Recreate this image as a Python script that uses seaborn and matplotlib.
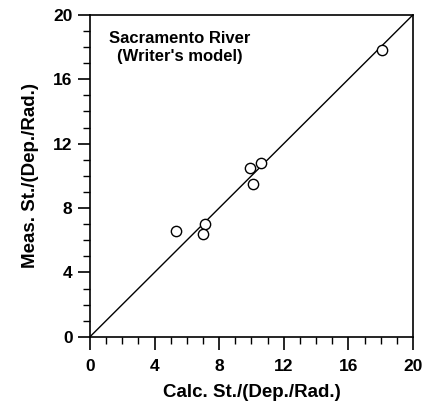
import numpy as np
import pandas as pd
import seaborn as sns
import matplotlib
matplotlib.use("Agg")
import matplotlib.pyplot as plt
from matplotlib.ticker import MultipleLocator

calc = [5.3, 7.1, 7.0, 9.9, 10.6, 10.1, 18.1]
meas = [6.6, 7.0, 6.4, 10.5, 10.8, 9.5, 17.8]
line_x = [0, 20]
line_y = [0, 20]

df = pd.DataFrame({"calc": calc, "meas": meas})

sns.set_style("ticks")
plt.rcParams['font.family'] = ['Liberation Sans', 'DejaVu Sans']
plt.rcParams['font.weight'] = 'bold'
plt.rcParams['text.color'] = 'black'
plt.rcParams['axes.labelcolor'] = 'black'

fig = plt.figure(figsize=(4.24, 4.01), dpi=100)
ax = fig.add_axes([0.212, 0.160, 0.762, 0.803])

sns.lineplot(x=line_x, y=line_y, ax=ax, color="black", linewidth=1.0)
sns.scatterplot(data=df, x="calc", y="meas", ax=ax, marker="o", s=55,
                facecolor="white", edgecolor="black", linewidth=1.0, zorder=3)

ax.set_xlim(0, 20)
ax.set_ylim(0, 20)
ax.xaxis.set_major_locator(MultipleLocator(4))
ax.yaxis.set_major_locator(MultipleLocator(4))
ax.xaxis.set_minor_locator(MultipleLocator(1))
ax.yaxis.set_minor_locator(MultipleLocator(1))
ax.tick_params(which="major", direction="out", length=9, width=1.2,
               labelsize=12.5, colors="black")
ax.tick_params(axis="x", which="major", pad=7)
ax.tick_params(which="minor", direction="out", length=5, width=1.0, colors="black")
for sp in ax.spines.values():
    sp.set_linewidth(1.2)
    sp.set_color("black")

for lab in ax.get_xticklabels() + ax.get_yticklabels():
    lab.set_fontweight("bold")

ax.set_xlabel("Calc. St./(Dep./Rad.)", fontsize=13.5, fontweight="bold", labelpad=7)
ax.set_ylabel("Meas. St./(Dep./Rad.)", fontsize=13.5, fontweight="bold", labelpad=10)

ax.text(0.279, 0.90, "Sacramento River\n(Writer's model)", transform=ax.transAxes,
        ha="center", va="center", fontsize=12, fontweight="bold", linespacing=1.25)

fig.savefig("out.png", dpi=100)
